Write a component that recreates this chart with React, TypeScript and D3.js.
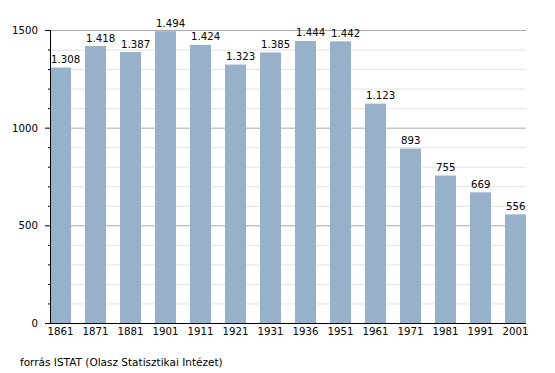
import React from "react";
import * as d3 from "d3";

const years = ["1861","1871","1881","1901","1911","1921","1931","1936","1951","1961","1971","1981","1991","2001"];
const population = [1308,1418,1387,1494,1424,1323,1385,1444,1442,1123,893,755,669,556];
const labels = ["1.308","1.418","1.387","1.494","1.424","1.323","1.385","1.444","1.442","1.123","893","755","669","556"];
const majorTicks = [0,500,1000,1500];
const minorTicks = d3.range(0,1501,100);

export default function App() {
  const W = 555, H = 373;
  const left = 50, right = 526, top = 30, bottom = 323;
  const x = d3.scaleBand<string>().domain(years).range([left, right]).paddingInner(0.4).paddingOuter(0);
  const y = d3.scaleLinear().domain([0,1500]).range([bottom, top]);
  const font = "DejaVu Sans, sans-serif";
  return (
    <svg width={W} height={H} style={{position:"absolute", left:0, top:0}}>
      <rect width={W} height={H} fill="#fff" />
      {minorTicks.filter(t => t % 500 !== 0).map(t => (
        <line key={"g"+t} x1={left} x2={right} y1={y(t)+0.5} y2={y(t)+0.5} stroke="#e2e2e2" />
      ))}
      {majorTicks.filter(t => t !== 0).map(t => (
        <line key={"G"+t} x1={left} x2={right} y1={y(t)+0.5} y2={y(t)+0.5} stroke="#aaaaaa" />
      ))}
      {years.map((yr, i) => (
        <rect key={yr} x={x(yr)} y={y(population[i])} width={x.bandwidth()} height={bottom - y(population[i])} fill="#98b1cb" />
      ))}
      {years.map((yr, i) => (
        <text key={"v"+yr} x={(x(yr) as number) + 1} y={y(population[i]) - 4.5} textAnchor="start" fontFamily={font} fontSize={10.2} fill="#000">{labels[i]}</text>
      ))}
      <line x1={left+0.5} x2={left+0.5} y1={top} y2={bottom} stroke="#000" />
      <line x1={left} x2={right} y1={bottom+0.5} y2={bottom+0.5} stroke="#000" />
      {minorTicks.map(t => (
        <line key={"t"+t} x1={t % 500 === 0 ? left-5 : left-2} x2={left} y1={y(t)+0.5} y2={y(t)+0.5} stroke="#000" />
      ))}
      {majorTicks.map(t => (
        <text key={"l"+t} x={38} y={y(t)+4} textAnchor="end" fontFamily={font} fontSize={10.2} fill="#000">{t}</text>
      ))}
      {years.map(yr => (
        <text key={"x"+yr} x={(x(yr) as number) + x.bandwidth()/2} y={335} textAnchor="middle" fontFamily={font} fontSize={10.2} fill="#000">{yr}</text>
      ))}
      <text x={20} y={366} fontFamily={font} fontSize={10.5} fill="#000">forrás ISTAT (Olasz Statisztikai Intézet)</text>
    </svg>
  );
}
